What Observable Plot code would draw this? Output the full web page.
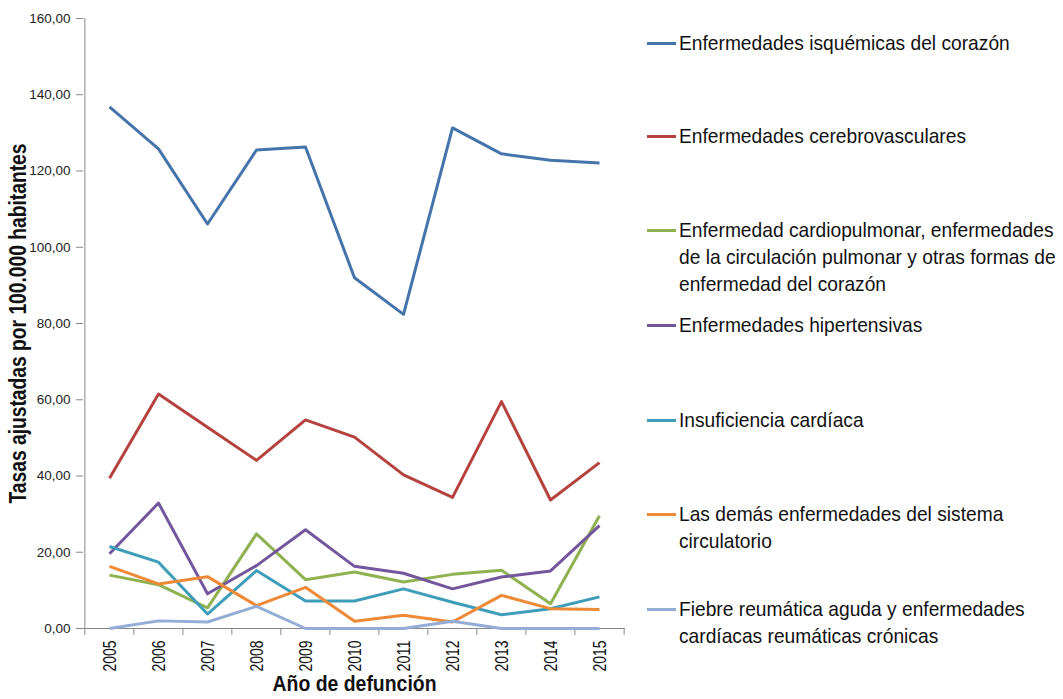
<!DOCTYPE html>
<html><head><meta charset="utf-8">
<script src="https://cdn.jsdelivr.net/npm/d3@7"></script>
<script src="https://cdn.jsdelivr.net/npm/@observablehq/plot@0.6"></script>
<style>
body{margin:0;background:#fff;}
#wrap{position:relative;width:1063px;height:699px;font-family:"Liberation Sans",Arial,sans-serif;overflow:hidden;}
#legend{position:absolute;left:647px;top:0;width:416px;}
.item{position:absolute;left:0;display:flex;align-items:flex-start;}
.sw{width:29px;height:3px;margin-top:13px;flex:none;margin-right:3px;}
.txt{font-size:21px;line-height:27px;color:#111;transform:scaleX(0.914);transform-origin:0 0;white-space:nowrap;}
</style></head>
<body><div id="wrap"><div id="chart"></div><div id="legend"></div></div>
<script>
const years = ["2005","2006","2007","2008","2009","2010","2011","2012","2013","2014","2015"];
const seriesNames = [
  "Enfermedades isquémicas del corazón",
  "Enfermedades cerebrovasculares",
  "Enfermedad cardiopulmonar, enfermedades de la circulación pulmonar y otras formas de enfermedad del corazón",
  "Enfermedades hipertensivas",
  "Insuficiencia cardíaca",
  "Las demás enfermedades del sistema circulatorio",
  "Fiebre reumática aguda y enfermedades cardíacas reumáticas crónicas"
];
const legendLines = [
  ["Enfermedades isquémicas del corazón"],
  ["Enfermedades cerebrovasculares"],
  ["Enfermedad cardiopulmonar, enfermedades","de la circulación pulmonar y otras formas de","enfermedad del corazón"],
  ["Enfermedades hipertensivas"],
  ["Insuficiencia cardíaca"],
  ["Las demás enfermedades del sistema","circulatorio"],
  ["Fiebre reumática aguda y enfermedades","cardíacas reumáticas crónicas"]
];
const isquemicas     = [136.8,125.8,106.1,125.5,126.3,92.0,82.4,131.3,124.5,122.8,122.1];
const cerebro        = [39.4,61.5,52.8,44.1,54.7,50.2,40.3,34.4,59.5,33.7,43.5];
const cardiopulmonar = [14.0,11.5,5.4,24.8,12.8,14.8,12.2,14.2,15.3,6.5,29.6];
const hipertensivas  = [19.6,32.9,9.1,16.5,25.9,16.3,14.5,10.4,13.5,15.1,27.0];
const insuficiencia  = [21.5,17.4,3.8,15.2,7.2,7.2,10.4,6.9,3.6,5.2,8.3];
const demas          = [16.3,11.7,13.6,6.0,10.8,1.9,3.5,1.7,8.7,5.2,5.0];
const reumatica      = [0.0,2.0,1.7,5.8,0.0,0.0,0.0,1.9,0.0,0.0,0.0];
const allSeries = [isquemicas,cerebro,cardiopulmonar,hipertensivas,insuficiencia,demas,reumatica];
const colors = ["#4574AB","#B5423E","#8FB150","#72579C","#3E9DB9","#EE8938","#93ADD6"];
const yTicks = [0,20,40,60,80,100,120,140,160];
const yLabel = "Tasas ajustadas por 100.000 habitantes";
const xLabel = "Año de defunción";

const rows = [];
allSeries.forEach((vals, s) => vals.forEach((v, i) => rows.push({serie: seriesNames[s], year: years[i], value: v})));

const W = 1063, H = 699, mL = 83, mR = 438, mT = 18, mB = 71;
const half = (W - mL - mR) / years.length / 2;
const font = '"Liberation Sans",Arial,sans-serif';

const chart = Plot.plot({
  width: W, height: H,
  marginLeft: mL, marginRight: mR, marginTop: mT, marginBottom: mB,
  style: {fontFamily: font, background: "#fff"},
  x: {type: "point", domain: years, padding: 0.5, axis: null},
  y: {domain: [0, 160], axis: null},
  color: {domain: seriesNames, range: colors},
  marks: [
    Plot.axisY(yTicks, {tickSize: 7, tickPadding: 6, stroke: "#888", fill: "#222",
      fontSize: 13.5, tickFormat: d => d.toFixed(2).replace(".", ","), label: null}),
    Plot.axisX(years, {tickSize: 7, dx: -half, stroke: "#888", tickFormat: () => "", label: null}),
    Plot.axisX([years[years.length - 1]], {tickSize: 7, dx: half, stroke: "#888", tickFormat: () => "", label: null}),
    Plot.axisX(years, {tickSize: 0, tickPadding: 12, tickRotate: -90, fontSize: 19, fill: "#111", label: null}),
    Plot.ruleX([years[0]], {dx: -half, y1: 0, y2: 160, stroke: "#888"}),
    Plot.ruleY([0], {stroke: "#888"}),
    Plot.line(rows, {x: "year", y: "value", z: "serie", stroke: "serie", strokeWidth: 3, strokeLinejoin: "round", strokeLinecap: "butt"}),
    Plot.text([yLabel], {frameAnchor: "left", textAnchor: "middle", rotate: -90, dx: -64.5, fontSize: 23, fontWeight: "bold", fill: "#111"}),
    Plot.text([xLabel], {frameAnchor: "bottom", textAnchor: "middle", dy: 62, fontSize: 22, fontWeight: "bold", fill: "#111"})
  ]
});
document.getElementById("chart").appendChild(chart);

// condense texts to mimic the narrow typeface of the original
const svg = d3.select(chart);
svg.selectAll("text").each(function() {
  const t = this.textContent;
  let len = null;
  if (t === yLabel) len = 360;
  else if (t === xLabel) len = 164;
  else if (years.includes(t)) len = 31;
  if (len) d3.select(this).attr("textLength", len).attr("lengthAdjust", "spacingAndGlyphs");
});

const tops = [29, 122, 216, 311, 406, 500, 595];
const legend = d3.select("#legend");
legendLines.forEach((lines, i) => {
  const it = legend.append("div").attr("class", "item").style("top", tops[i] + "px");
  it.append("div").attr("class", "sw").style("background", colors[i]);
  it.append("div").attr("class", "txt").html(lines.join("<br>"));
});
</script></body></html>
